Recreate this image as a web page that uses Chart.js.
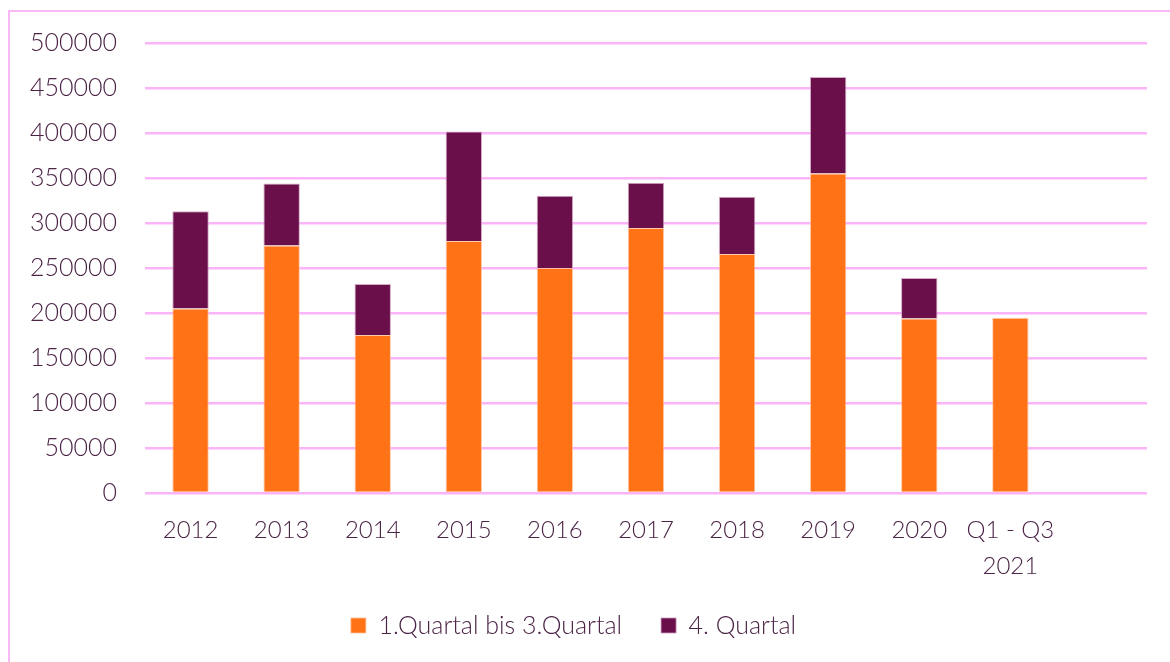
<!DOCTYPE html>
<html>
<head>
<meta charset="utf-8">
<script src="https://cdn.jsdelivr.net/npm/chart.js@4"></script>
<style>
  html, body { margin: 0; padding: 0; background: #fff; }
  #rahmen {
    position: absolute; left: 8px; top: 10px; width: 1170px; height: 662px;
    border-left: 2px solid #fbb8f6; border-top: 2px solid #fbb8f6;
  }
  #wrap { position: absolute; left: 0; top: 0; width: 1170px; height: 662px; }
</style>
</head>
<body>
<div id="rahmen"></div>
<div id="wrap"><canvas id="Quartale"></canvas></div>
<script>
/* Daten */
const jahre = ["2012", "2013", "2014", "2015", "2016", "2017", "2018", "2019", "2020", ["Q1 - Q3", "2021"], ""];
const quartal1bis3 = [205000, 275000, 175500, 280000, 250000, 294500, 265500, 355000, 194000, 194700, null];
const quartal4 = [108000, 69000, 56800, 121800, 80400, 50300, 63800, 107300, 45000, null, null];

const textFarbe = "#4b2345";
const gitterFarbe = "#fbb4f8";
const schrift = "Lato, 'Open Sans', sans-serif";

const ctxQ = document.getElementById("Quartale").getContext("2d");
let Quartale = new Chart(ctxQ, {
	type: "bar",
	data: {
		labels: jahre,
		datasets: [
			{
				label: "1.Quartal bis 3.Quartal",
				data: quartal1bis3,
				backgroundColor: "#ff7316",
				borderColor: "rgba(255,190,150,0.8)",
				borderWidth: 1,
			},
			{
				label: "4. Quartal",
				data: quartal4,
				backgroundColor: "#6b0f4b",
				borderColor: "rgba(200,150,185,0.8)",
				borderWidth: 1,
			}
		],
	},
	options: {
		responsive: true,
		maintainAspectRatio: false,
		animation: false,
		categoryPercentage: 1,
		barPercentage: 0.4,
		layout: {
			padding: { top: 41, right: 23, left: 0, bottom: 14 }
		},
		scales: {
			x: {
				stacked: true,
				grid: { display: false },
				border: { display: false },
				ticks: {
					color: textFarbe,
					padding: 11,
					maxRotation: 0,
					autoSkip: false,
					font: { family: schrift, size: 24, weight: 300, lineHeight: 1.52 }
				},
				afterFit: (scale) => { scale.height = 81; }
			},
			y: {
				stacked: true,
				min: 0,
				max: 500000,
				border: { display: false },
				grid: { color: gitterFarbe, lineWidth: 2.5, drawTicks: false },
				ticks: {
					stepSize: 50000,
					color: textFarbe,
					padding: 28,
					font: { family: schrift, size: 25, weight: 300 },
					callback: (wert) => String(wert)
				},
				afterFit: (scale) => { scale.width = 145; }
			}
		},
		plugins: {
			legend: {
				position: "bottom",
				labels: {
					color: textFarbe,
					boxWidth: 15,
					boxHeight: 15,
					padding: 39,
					font: { family: schrift, size: 25, weight: 300 }
				}
			},
			tooltip: { enabled: false }
		}
	},
});
</script>
</body>
</html>
